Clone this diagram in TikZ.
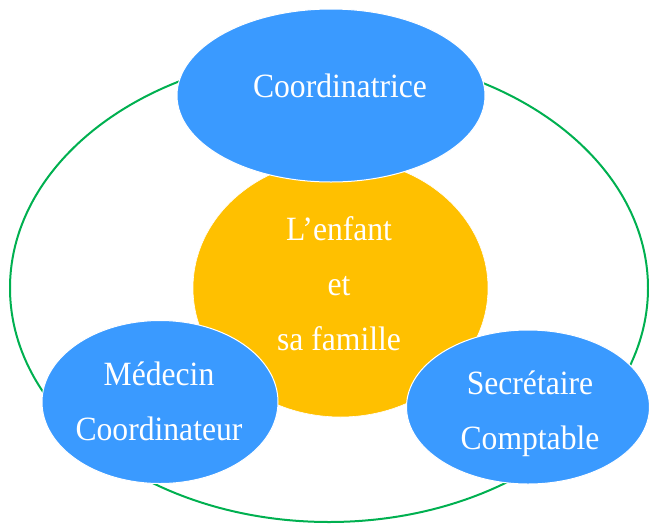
\documentclass[tikz,border=0pt]{standalone}
\usepackage{fontspec}
\setmainfont[FakeStretch=0.93]{Liberation Serif}
\usetikzlibrary{shapes.geometric}
\definecolor{bleu}{HTML}{3A9AFF}
\definecolor{orange}{HTML}{FFC000}
\definecolor{vert}{HTML}{00B050}
\begin{document}
\begin{tikzpicture}[x=1pt,y=-1pt,
    bulle/.style={ellipse,fill=bleu,draw=white,line width=1pt,inner sep=0pt},
    txt/.style={text=white,align=center,font=\fontsize{34}{55}\selectfont}]
    \useasboundingbox (0,0) rectangle (649,523);
    \node[ellipse,draw=vert,line width=2pt,minimum width=638pt,minimum height=468pt] (cadre) at (329,288) {};
    \node[ellipse,fill=orange,draw=white,line width=0.6pt,minimum width=295pt,minimum height=258pt] (enfant) at (340.5,288) {};
    \node[txt] (enfanttxt) at (339,284) {L’enfant\\et\\sa famille};
    \node[bulle,minimum width=308pt,minimum height=173pt] (coord) at (331,95.5) {};
    \node[txt] (coordtxt) at (340,86) {Coordinatrice};
    \node[bulle,minimum width=236pt,minimum height=163pt] (medecin) at (160,402) {};
    \node[txt] (medecintxt) at (159,401) {Médecin\\Coordinateur};
    \node[bulle,minimum width=243pt,minimum height=154pt] (secretaire) at (528,407) {};
    \node[txt] (secretairetxt) at (530,414) {Secrétaire\\Comptable};
\end{tikzpicture}
\end{document}
